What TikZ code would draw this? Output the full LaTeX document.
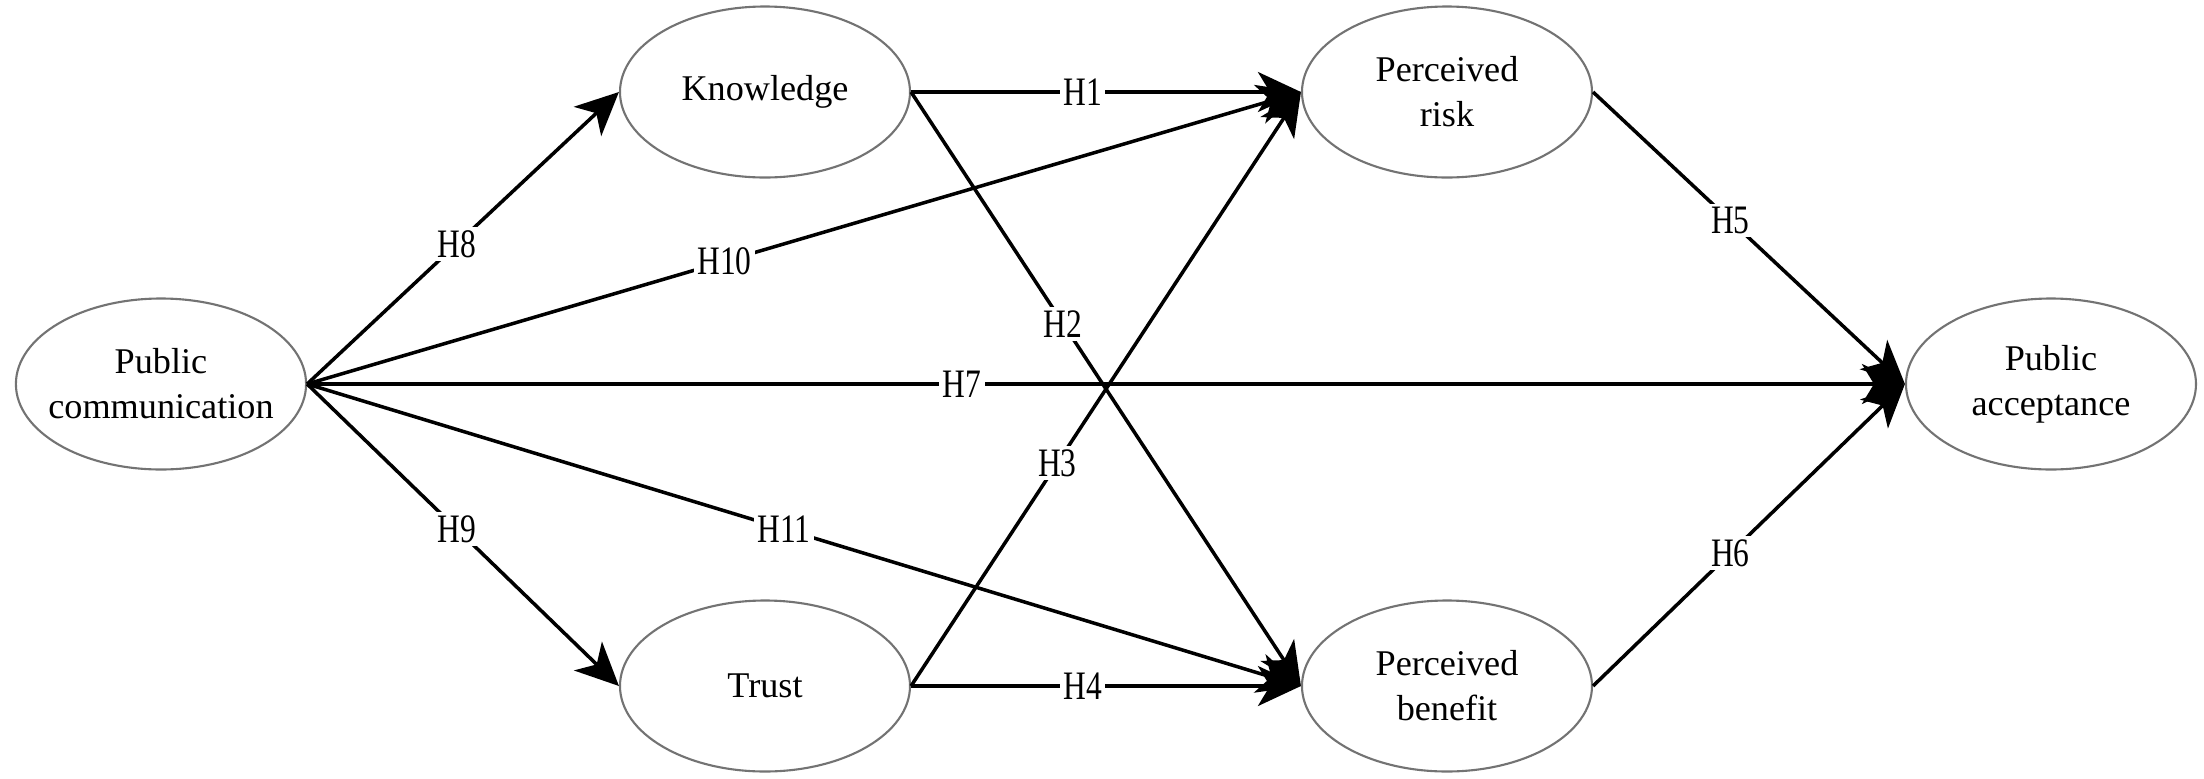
\documentclass[tikz,border=0pt]{standalone}
\usepackage{fontspec}
\setmainfont{Liberation Serif}
\newfontfamily\hypfont[FakeStretch=0.78]{Liberation Serif}
\usepackage{tikz}
\usetikzlibrary{shapes.geometric, arrows.meta, positioning}

\begin{document}
\begin{tikzpicture}[
    every node/.style={font=\fontsize{10.3}{12.8}\selectfont},
    construct/.style={ellipse, draw=black!55, line width=0.6pt, fill=white, minimum width=2.9cm, minimum height=1.71cm, inner xsep=-1mm, align=center},
    hyp/.style={font=\hypfont\fontsize{11.5}{12}\selectfont, fill=white, inner sep=1pt},
    arrow/.style={line width=1pt, -{Stealth[length=4.3mm, width=4mm, inset=1.2mm]}}
]
    \useasboundingbox (0,0) rectangle (22.04,7.78);

    \node[construct] (pc) at (1.61,3.94) {Public\\communication};
    \node[construct] (know) at (7.65,6.86) {Knowledge};
    \node[construct] (trust) at (7.65,0.92) {Trust};
    \node[construct] (risk) at (14.47,6.86) {Perceived\\risk};
    \node[construct] (benefit) at (14.47,0.92) {Perceived\\benefit};
    \node[construct] (accept) at (20.51,3.94) {Public\\acceptance};

    \draw[arrow] (pc.east) -- node[hyp, pos=0.48] {H8} (know.west);
    \draw[arrow] (pc.east) -- node[hyp, pos=0.48] {H9} (trust.west);
    \draw[arrow] (pc.east) -- node[hyp, pos=0.42] {H10} (risk.west);
    \draw[arrow] (pc.east) -- node[hyp, pos=0.48] {H11} (benefit.west);
    \draw[arrow] (pc.east) -- node[hyp, pos=0.41] {H7} (accept.west);
    \draw[arrow] (know.east) -- node[hyp, pos=0.44] {H1} (risk.west);
    \draw[arrow] (know.east) -- node[hyp, pos=0.39] {H2} (benefit.west);
    \draw[arrow] (trust.east) -- node[hyp, pos=0.375] {H3} (risk.west);
    \draw[arrow] (trust.east) -- node[hyp, pos=0.44] {H4} (benefit.west);
    \draw[arrow] (risk.east) -- node[hyp, pos=0.44] {H5} (accept.west);
    \draw[arrow] (benefit.east) -- node[hyp, pos=0.44] {H6} (accept.west);
\end{tikzpicture}
\end{document}
